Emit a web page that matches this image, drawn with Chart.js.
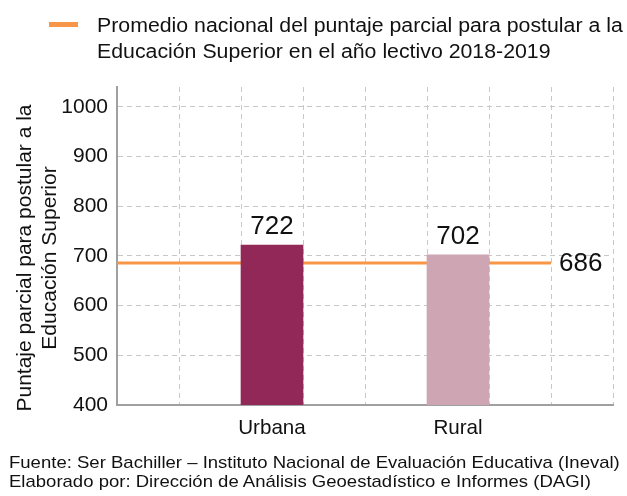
<!DOCTYPE html>
<html lang="es">

<head>
    <meta charset="UTF-8">
    <title>Puntaje parcial para postular a la Educación Superior</title>
    <script src="https://cdn.jsdelivr.net/npm/chart.js"></script>
    <style>
        html, body { margin: 0; padding: 0; background: #fff; }
        body { width: 627px; height: 496px; position: relative; overflow: hidden;
               font-family: "Liberation Sans", Arial, sans-serif; color: #111; }
        #chart { position: absolute; left: 0; top: 0; }
        .legend-mark { position: absolute; left: 49px; top: 22px; width: 29px; height: 5px; background: #f79646; }
        .legend-text { position: absolute; left: 97px; top: 12px; font-size: 20px; line-height: 26px; white-space: nowrap;
                       transform: scaleX(1.065); transform-origin: left top; }
        .y-title { position: absolute; left: -134px; top: 233px; width: 340px; height: 50px;
                   font-size: 21px; line-height: 25px; text-align: center; white-space: nowrap;
                   transform: rotate(-90deg); }
        .footer { position: absolute; left: 9px; top: 453px; font-size: 17px; line-height: 19px; white-space: nowrap;
                  transform: scaleX(1.09); transform-origin: left top; }
    </style>
</head>

<body>
    <canvas id="chart" width="627" height="496"></canvas>
    <div class="legend-mark"></div>
    <div class="legend-text">Promedio nacional del puntaje parcial para postular a la<br>Educación Superior en el año lectivo 2018-2019</div>
    <div class="y-title">Puntaje parcial para postular a la<br>Educación Superior</div>
    <div class="footer">Fuente: Ser Bachiller – Instituto Nacional de Evaluación Educativa (Ineval)<br>Elaborado por: Dirección de Análisis Geoestadístico e Informes (DAGI)</div>

    <script>
        // data
        var categories = ['Urbana', 'Rural'];
        var scores = [722, 702];
        var nationalAverage = 686;
        var averageLabel = 'Promedio nacional del puntaje parcial para postular a la Educación Superior en el año lectivo 2018-2019';
        var yTicks = [400, 500, 600, 700, 800, 900, 1000];

        // layout: the plot is split in 8 columns, bars sit in columns 3 and 6
        var barSlots = [2.5, 5.5];
        var lineEnd = 7;
        var barColors = ['#922858', '#cea5b3'];

        var valueLabels = {
            id: 'valueLabels',
            afterDatasetsDraw: function(chart) {
                var ctx = chart.ctx;
                ctx.save();
                ctx.fillStyle = '#111';
                ctx.font = '26px "Liberation Sans", Arial, sans-serif';
                var bars = chart.getDatasetMeta(0).data;
                ctx.textAlign = 'center';
                ctx.textBaseline = 'alphabetic';
                bars.forEach(function(bar, i) {
                    ctx.fillText(String(scores[i]), bar.x, bar.y - 11);
                });
                var pts = chart.getDatasetMeta(1).data;
                var last = pts[pts.length - 1];
                ctx.textAlign = 'left';
                ctx.textBaseline = 'middle';
                ctx.fillText(String(nationalAverage), last.x + 8, last.y + 1);
                ctx.restore();
            }
        };

        var fontFamily = '"Liberation Sans", Arial, sans-serif';

        new Chart(document.getElementById('chart'), {
            data: {
                datasets: [{
                    type: 'bar',
                    label: 'Puntaje',
                    data: categories.map(function(c, i) { return { x: barSlots[i], y: scores[i] }; }),
                    backgroundColor: barColors,
                    barThickness: 62,
                    order: 0
                }, {
                    type: 'line',
                    label: averageLabel,
                    data: [{ x: 0, y: nationalAverage }, { x: lineEnd, y: nationalAverage }],
                    borderColor: '#f79646',
                    borderWidth: 3,
                    pointRadius: 0,
                    order: 1
                }]
            },
            options: {
                responsive: false,
                animation: false,
                layout: { padding: { left: 0, top: 87, right: 14, bottom: 51 } },
                plugins: {
                    legend: { display: false },
                    tooltip: { enabled: false }
                },
                scales: {
                    x: {
                        type: 'linear',
                        offset: false,
                        min: 0,
                        max: 8,
                        afterBuildTicks: function(s) {
                            var t = [];
                            for (var v = 0; v <= 8; v++) t.push(v);
                            barSlots.forEach(function(p) { t.push(p); });
                            t.sort(function(a, b) { return a - b; });
                            s.ticks = t.map(function(v) { return { value: v }; });
                        },
                        afterFit: function(s) { s.height = 40; },
                        ticks: {
                            autoSkip: false,
                            maxRotation: 0,
                            padding: 11,
                            color: '#111',
                            font: { family: fontFamily, size: 20.6 },
                            callback: function(v) {
                                var i = barSlots.indexOf(v);
                                return i >= 0 ? categories[i] : '';
                            }
                        },
                        grid: {
                            offset: false,
                            drawTicks: false,
                            color: function(c) {
                                var v = c.tick ? c.tick.value : 0;
                                return (v > 0 && v % 1 === 0) ? '#c8c8c8' : 'rgba(0,0,0,0)';
                            }
                        },
                        border: { color: '#a0a0a0', width: 2, dash: [5, 4] }
                    },
                    y: {
                        min: 400,
                        max: 1040,
                        afterBuildTicks: function(s) {
                            s.ticks = yTicks.map(function(v) { return { value: v }; });
                        },
                        afterFit: function(s) { s.width = 117; },
                        ticks: {
                            padding: 9,
                            color: '#111',
                            font: { family: fontFamily, size: 21 },
                            callback: function(v) { return String(v); }
                        },
                        grid: {
                            drawTicks: false,
                            color: function(c) {
                                return (c.tick && c.tick.value > 400) ? '#c8c8c8' : 'rgba(0,0,0,0)';
                            }
                        },
                        border: { color: '#a0a0a0', width: 2, dash: [5, 4] }
                    }
                }
            },
            plugins: [valueLabels]
        });
    </script>
</body>

</html>
